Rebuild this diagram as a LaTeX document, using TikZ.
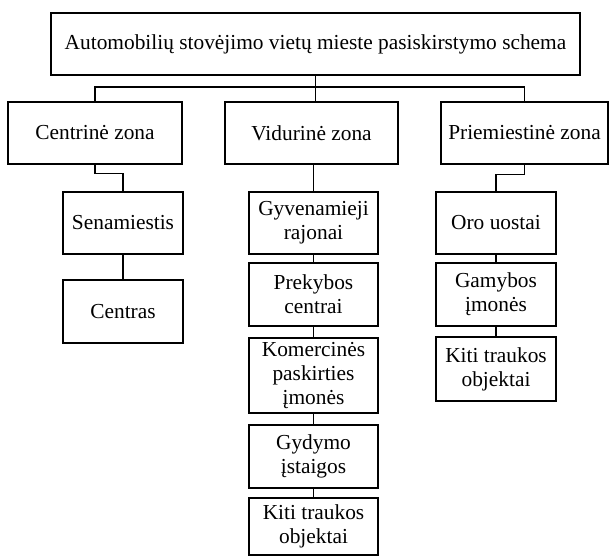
\documentclass[tikz,border=0pt]{standalone}
\usepackage{fontspec}
\setmainfont{Liberation Serif}
\usepackage{xcolor}
\usetikzlibrary{positioning, calc}

\begin{document}
\begin{tikzpicture}[
				  box/.style={draw, line width=0.75pt, align=center, inner sep=0pt,
				    font=\fontsize{15.2}{17.2}\selectfont},
				  link/.style={line width=0.75pt}
				]
				  \useasboundingbox (0,0) rectangle (15.225,-13.9);
				  % top level
				  \node[box, minimum width=13.225cm, minimum height=1.55cm] (top) at (7.8875,-1.1) {Automobilių stovėjimo vietų mieste pasiskirstymo schema};
				  \coordinate (bus) at (0,-2.175);
				  % zones
				  \node[box, minimum width=4.35cm, minimum height=1.55cm] (cz) at (2.375,-3.325) {Centrinė zona};
				  \node[box, minimum width=4.325cm, minimum height=1.55cm] (vz) at (7.7875,-3.325) {Vidurinė zona};
				  \node[box, minimum width=4.175cm, minimum height=1.55cm] (pz) at (13.1125,-3.325) {Priemiestinė zona};
				  % centrine zona
				  \node[box, minimum width=3cm, minimum height=1.55cm] (sen) at (3.075,-5.575) {Senamiestis};
				  \node[box, minimum width=3cm, minimum height=1.575cm] (cen) at (3.075,-7.7875) {Centras};
				  % vidurine zona
				  \node[box, minimum width=3.225cm, minimum height=1.55cm] (gyv) at (7.8375,-5.575) {Gyvenamieji\\rajonai};
				  \node[box, minimum width=3.225cm, minimum height=1.575cm] (pre) at (7.8375,-7.3625) {Prekybos\\centrai};
				  \node[box, minimum width=3.225cm, minimum height=1.875cm] (kom) at (7.8375,-9.3875) {Komercinės\\paskirties\\įmonės};
				  \node[box, minimum width=3.225cm, minimum height=1.575cm] (gyd) at (7.8375,-11.4125) {Gydymo\\įstaigos};
				  \node[box, minimum width=3.225cm, minimum height=1.425cm] (kitv) at (7.8375,-13.1625) {Kiti traukos\\objektai};
				  % priemiestine zona
				  \node[box, minimum width=3cm, minimum height=1.55cm] (oro) at (12.4,-5.575) {Oro uostai};
				  \node[box, minimum width=3cm, minimum height=1.575cm] (gam) at (12.4,-7.3625) {Gamybos\\įmonės};
				  \node[box, minimum width=3cm, minimum height=1.6cm] (kitp) at (12.4,-9.225) {Kiti traukos\\objektai};
				  % connectors
				  \draw[link] (top.south) -- (top.south |- vz.north);
				  \draw[link] (cz.north) -- (cz.north |- bus) -- (pz.north |- bus) -- (pz.north);
				  \draw[link] (cz.south) -- ++(0,-0.225) -| (sen.north);
				  \draw[link] (sen) -- (cen);
				  \draw[link] (gyv.north) -- (gyv.north |- vz.south);
				  \draw[link] (gyv) -- (pre);
				  \draw[link] (pre) -- (kom);
				  \draw[link] (kom) -- (gyd);
				  \draw[link] (gyd) -- (kitv);
				  \draw[link] (pz.south) -- ++(0,-0.25) -| (oro.north);
				  \draw[link] (oro) -- (gam);
				  \draw[link] (gam) -- (kitp);
				\end{tikzpicture}
\end{document}
